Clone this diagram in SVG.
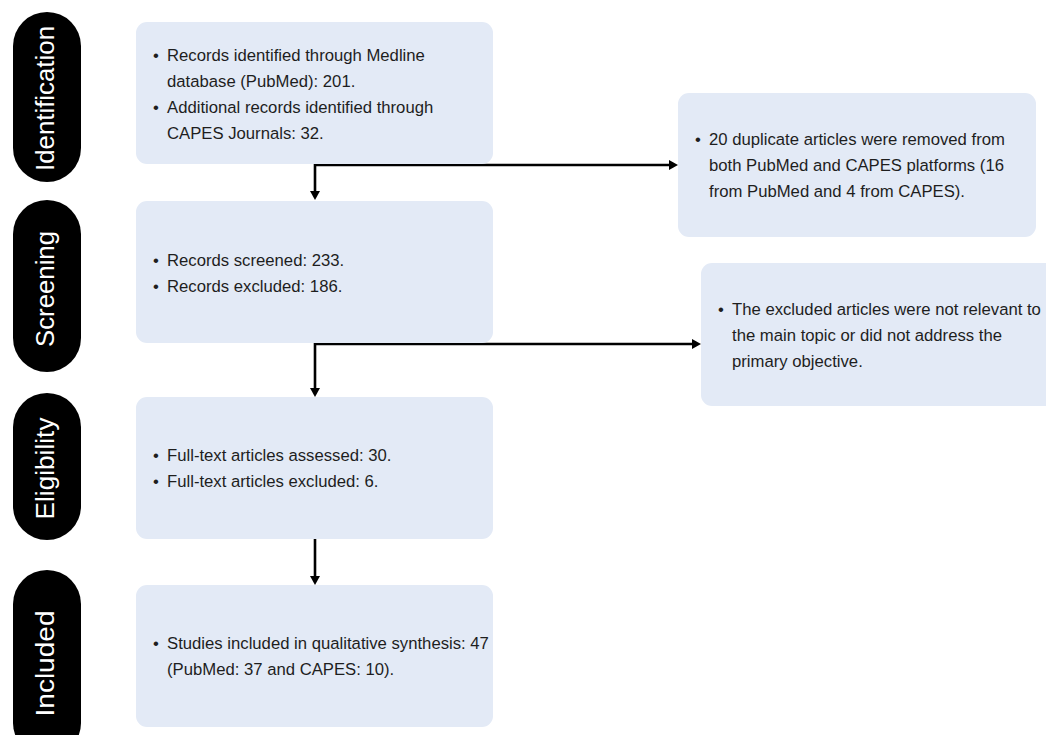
<svg xmlns="http://www.w3.org/2000/svg" width="1046" height="735" viewBox="0 0 1046 735">
  <defs>
    <style>
      .pill { fill: #000000; }
      .pilltxt { fill: #ffffff; font-family: "Liberation Sans", Arial, sans-serif; font-size: 25px; text-anchor: middle; }
      .box { fill: #E3EAF6; }
      .txt { fill: #1E1E1E; font-family: "Liberation Sans", Arial, sans-serif; font-size: 16.7px; }
      .conn { fill: none; stroke: #000000; stroke-width: 2.6; stroke-linejoin: miter; }
    </style>
    <marker id="arrow" markerUnits="userSpaceOnUse" markerWidth="10" markerHeight="10" refX="3" refY="5" orient="auto-start-reverse" viewBox="0 0 10 10">
      <path d="M0,0 L9,5 L0,10 Z" fill="#000000"/>
    </marker>
  </defs>
  <rect width="1046" height="735" fill="#ffffff"/>

  <!-- stage labels -->
  <g id="stage-identification">
    <rect class="pill" x="13" y="12" width="68" height="170" rx="34" ry="34"/>
    <text class="pilltxt" transform="translate(54,98.5) rotate(-90)" textLength="145" lengthAdjust="spacingAndGlyphs">Identification</text>
  </g>
  <g id="stage-screening">
    <rect class="pill" x="13" y="200" width="68" height="172" rx="34" ry="34"/>
    <text class="pilltxt" transform="translate(54,289) rotate(-90)" textLength="116" lengthAdjust="spacingAndGlyphs">Screening</text>
  </g>
  <g id="stage-eligibility">
    <rect class="pill" x="13" y="393" width="68" height="147" rx="34" ry="34"/>
    <text class="pilltxt" transform="translate(54,468.5) rotate(-90)" textLength="102" lengthAdjust="spacingAndGlyphs">Eligibility</text>
  </g>
  <g id="stage-included">
    <rect class="pill" x="13" y="570" width="68" height="187" rx="34" ry="34"/>
    <text class="pilltxt" transform="translate(54,663.5) rotate(-90)" textLength="106" lengthAdjust="spacingAndGlyphs">Included</text>
  </g>

  <!-- connectors -->
  <g id="connectors">
    <path class="conn" d="M315,194 V165 H672" marker-start="url(#arrow)" marker-end="url(#arrow)"/>
    <path class="conn" d="M315,391 V344 H695" marker-start="url(#arrow)" marker-end="url(#arrow)"/>
    <path class="conn" d="M315,539 V579" marker-end="url(#arrow)"/>
  </g>

  <!-- nodes -->
  <g id="node-identification">
    <rect class="box" x="136" y="22" width="357" height="142" rx="11" ry="11"/>
    <text class="txt"><tspan x="153" y="60.5">•</tspan><tspan x="167" y="60.5">Records identified through Medline</tspan></text>
    <text class="txt" x="167" y="86.5">database (PubMed): 201.</text>
    <text class="txt"><tspan x="153" y="112.5">•</tspan><tspan x="167" y="112.5">Additional records identified through</tspan></text>
    <text class="txt" x="167" y="138.5">CAPES Journals: 32.</text>
  </g>

  <g id="node-duplicates">
    <rect class="box" x="678" y="93" width="358" height="144" rx="11" ry="11"/>
    <text class="txt"><tspan x="695" y="145">•</tspan><tspan x="709" y="145">20 duplicate articles were removed from</tspan></text>
    <text class="txt" x="709" y="171">both PubMed and CAPES platforms (16</text>
    <text class="txt" x="709" y="197">from PubMed and 4 from CAPES).</text>
  </g>

  <g id="node-screening">
    <rect class="box" x="136" y="201" width="357" height="142" rx="11" ry="11"/>
    <text class="txt"><tspan x="153" y="265.5">•</tspan><tspan x="167" y="265.5">Records screened: 233.</tspan></text>
    <text class="txt"><tspan x="153" y="291.5">•</tspan><tspan x="167" y="291.5">Records excluded: 186.</tspan></text>
  </g>

  <g id="node-excluded">
    <rect class="box" x="701" y="263" width="360" height="143" rx="11" ry="11"/>
    <text class="txt"><tspan x="718" y="314.5">•</tspan><tspan x="732" y="314.5">The excluded articles were not relevant to</tspan></text>
    <text class="txt" x="732" y="340.5">the main topic or did not address the</text>
    <text class="txt" x="732" y="366.5">primary objective.</text>
  </g>

  <g id="node-eligibility">
    <rect class="box" x="136" y="397" width="357" height="142" rx="11" ry="11"/>
    <text class="txt"><tspan x="153" y="461">•</tspan><tspan x="167" y="461">Full-text articles assessed: 30.</tspan></text>
    <text class="txt"><tspan x="153" y="487">•</tspan><tspan x="167" y="487">Full-text articles excluded: 6.</tspan></text>
  </g>

  <g id="node-included">
    <rect class="box" x="136" y="585" width="357" height="142" rx="11" ry="11"/>
    <text class="txt"><tspan x="153" y="649">•</tspan><tspan x="167" y="649">Studies included in qualitative synthesis: 47</tspan></text>
    <text class="txt" x="167" y="675">(PubMed: 37 and CAPES: 10).</text>
  </g>
</svg>
